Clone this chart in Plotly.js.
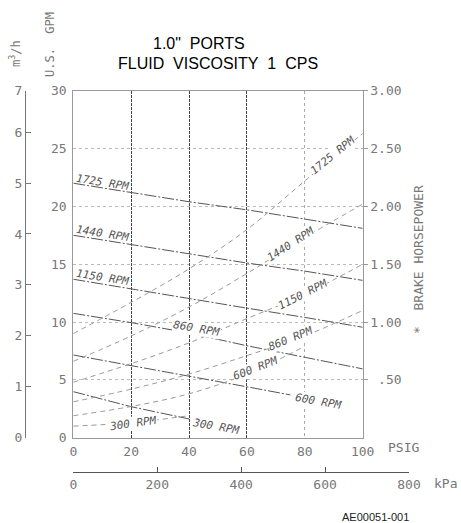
<!DOCTYPE html>
<html><head><meta charset="utf-8">
<script src="https://cdn.plot.ly/plotly-3.0.1.min.js"></script>
<style>html,body{margin:0;padding:0;background:#fff}#chart{width:461px;height:523px}</style>
</head><body><div id="chart"></div><script>
// ---- data ----
const pressurePsig = [0, 20, 40, 60, 80, 100];
const pressure600 = [0, 20, 40, 60, 75];
const pressure300 = [0, 20, 40];
// flow, U.S. GPM
const flow1725 = [22.0, 21.2, 20.4, 19.7, 18.9, 18.1];
const flow1440 = [17.5, 16.7, 15.9, 15.1, 14.4, 13.6];
const flow1150 = [13.7, 12.85, 12.05, 11.2, 10.4, 9.55];
const flow860  = [10.75, 9.95, 9.05, 7.95, 6.95, 5.95];
const flow600  = [7.15, 6.25, 5.35, 4.4, 3.7];
const flow300  = [3.98, 2.68, 1.62];
// brake horsepower
const pressureBhp600 = [0, 20, 40, 60, 80];
const pressureBhp300 = [0, 20, 40];
const bhp1725 = [0.90, 1.17, 1.46, 1.80, 2.22, 2.63];
const bhp1440 = [0.66, 0.88, 1.13, 1.42, 1.73, 2.02];
const bhp1150 = [0.48, 0.64, 0.82, 1.03, 1.24, 1.50];
const bhp860  = [0.31, 0.42, 0.55, 0.71, 0.88, 1.10];
const bhp600  = [0.19, 0.27, 0.38, 0.55, 0.79];
const bhp300  = [0.10, 0.13, 0.19];
// ticks
const psigTicks = [0, 20, 40, 60, 80, 100];
const gpmTicks = [0, 5, 10, 15, 20, 25, 30];
const bhpTicks = [0.5, 1.0, 1.5, 2.0, 2.5, 3.0];
const bhpTickText = ['\u00a0.50', '1.00', '1.50', '2.00', '2.50', '3.00'];
const kpaTicks = [0, 200, 400, 600, 800];
const m3hTicks = [0, 1, 2, 3, 4, 5, 6];
const GPM_PER_M3H = 4.403;
const KPA_PER_PSI = 6.895;
// curve labels: [text, psig, gpm-scale position, angle]
const flowLabels = [
  ['1725 RPM', 10.1, 22.1, 9], ['1440 RPM', 10.1, 17.65, 9], ['1150 RPM', 10.1, 13.85, 9],
  ['860 RPM', 42.5, 9.4, 10], ['600 RPM', 84.7, 3.17, 10], ['300 RPM', 49.2, 1.0, 10]
];
const bhpLabels = [
  ['1725 RPM', 89.6, 24.4, -39], ['1440 RPM', 75, 16.7, -33], ['1150 RPM', 79.3, 12.4, -27],
  ['860 RPM', 75.2, 8.6, -22], ['600 RPM', 62.8, 6.0, -21], ['300 RPM', 20.7, 1.2, -8]
];

const W = 461, H = 523;
const px = v => v / W, py = v => 1 - v / H;
const mono = 'DejaVu Sans Mono';
const grey = '#777';

function flowTrace(x, y) {
  return {x: x, y: y, xaxis: 'x', yaxis: 'y', mode: 'lines', hoverinfo: 'skip',
    line: {color: '#555', width: 1, dash: '12px,2px,2px,2px'}};
}
function bhpTrace(x, y) {
  return {x: x, y: y, xaxis: 'x', yaxis: 'y2', mode: 'lines', hoverinfo: 'skip',
    line: {color: '#999', width: 1, dash: '5px,4px', shape: 'spline'}};
}
function helperTrace(x, y, xa, ya) {
  return {x: x, y: y, xaxis: xa, yaxis: ya, mode: 'lines', hoverinfo: 'skip', opacity: 0,
    line: {width: 0}};
}
const data = [
  helperTrace(pressurePsig, flow1725, 'x3', 'y'),
  helperTrace(pressurePsig, flow1725, 'x4', 'y'),
  helperTrace(pressurePsig, flow1725.map(v => v / GPM_PER_M3H), 'x', 'y3'),
  helperTrace(pressurePsig.map(p => p * KPA_PER_PSI), bhp1725, 'x2', 'y4'),
  flowTrace(pressurePsig, flow1725), flowTrace(pressurePsig, flow1440),
  flowTrace(pressurePsig, flow1150), flowTrace(pressurePsig, flow860),
  flowTrace(pressure600, flow600), flowTrace(pressure300, flow300),
  bhpTrace(pressurePsig, bhp1725), bhpTrace(pressurePsig, bhp1440),
  bhpTrace(pressurePsig, bhp1150), bhpTrace(pressurePsig, bhp860),
  bhpTrace(pressureBhp600, bhp600), bhpTrace(pressureBhp300, bhp300)
];

const annotations = [];
function note(text, x, y, opts) {
  annotations.push(Object.assign({text: text, x: x, y: y, xref: 'paper', yref: 'paper',
    showarrow: false, xanchor: 'center', yanchor: 'middle'}, opts || {}));
}
note('1.0"\u00a0\u00a0PORTS', px(199), py(43), {font: {family: 'Liberation Sans', size: 16, color: '#000'}});
note('FLUID\u00a0\u00a0VISCOSITY\u00a0\u00a01\u00a0\u00a0CPS', px(218), py(63), {font: {family: 'Liberation Sans', size: 16, color: '#000'}});
note('m<sup>3</sup>/h', px(15), py(53), {textangle: -90, font: {family: mono, size: 12, color: grey}});
note('U.S.\u00a0\u00a0GPM', px(50), py(45), {textangle: -90, font: {family: mono, size: 12, color: grey}});
note('*\u00a0\u00a0BRAKE\u00a0HORSEPOWER', px(418), py(260), {textangle: -90, font: {family: mono, size: 13, color: grey}});
note('PSIG', px(403), py(447), {font: {family: mono, size: 13, color: grey}});
note('kPa', px(445), py(483), {font: {family: mono, size: 13, color: grey}});
note('AE00051-001', px(375), py(517), {font: {family: 'Liberation Sans', size: 11, color: '#222'}});
flowLabels.forEach(l => annotations.push({text: l[0], x: l[1], y: l[2], xref: 'x', yref: 'y', showarrow: false,
  textangle: l[3], bgcolor: (l[0] === '1725 RPM' || l[0] === '1440 RPM' || l[0] === '1150 RPM') ? 'rgba(0,0,0,0)' : 'white',
  borderpad: 0, font: {family: mono, size: 11, color: '#555', style: 'italic'}}));
bhpLabels.forEach(l => annotations.push({text: l[0], x: l[1], y: l[2], xref: 'x', yref: 'y', showarrow: false,
  textangle: l[3], bgcolor: 'white', borderpad: 0, font: {family: mono, size: 11, color: '#555', style: 'italic'}}));

const xDom = [px(73.3), px(362.7)];
const yDom = [py(437.7), py(90.7)];
const tickFont = {family: mono, size: 13, color: grey};
const layout = {
  width: W, height: H, margin: {l: 0, r: 0, t: 0, b: 0}, showlegend: false,
  paper_bgcolor: 'white', plot_bgcolor: 'white',
  xaxis: {domain: xDom, range: [0, 100], tickvals: psigTicks, showgrid: false, zeroline: false,
    showline: true, mirror: true, linecolor: '#999', linewidth: 1, ticks: '', tickfont: tickFont, ticklabelstandoff: 2},
  xaxis3: {overlaying: 'x', range: [0, 100], tickvals: [20, 40, 60], showticklabels: false, ticks: '',
    showgrid: true, gridcolor: '#444', gridwidth: 1, griddash: '3px,1px', zeroline: false, showline: false},
  xaxis4: {overlaying: 'x', range: [0, 100], tickvals: [80], showticklabels: false, ticks: '',
    showgrid: true, gridcolor: '#aaa', gridwidth: 1, griddash: 'dot', zeroline: false, showline: false},
  yaxis: {domain: yDom, range: [0, 30], tickvals: gpmTicks, showgrid: true, gridcolor: '#bbb', griddash: 'dot',
    zeroline: false, showline: true, mirror: true, linecolor: '#999', linewidth: 1, ticks: '', tickfont: tickFont, ticklabelstandoff: 3},
  yaxis2: {overlaying: 'y', side: 'right', range: [0, 3], tickvals: bhpTicks, ticktext: bhpTickText,
    showgrid: false, zeroline: false, showline: false, ticks: 'outside', ticklen: 4, tickcolor: '#999', tickfont: tickFont},
  yaxis3: {overlaying: 'y', anchor: 'free', position: px(25), side: 'left', range: [0, 30 / GPM_PER_M3H],
    tickvals: m3hTicks.concat([30 / GPM_PER_M3H]), ticktext: m3hTicks.map(String).concat(['7']),
    showgrid: false, zeroline: false, showline: true, linecolor: '#777', linewidth: 1,
    ticks: 'inside', ticklen: 5, tickcolor: '#777', tickfont: tickFont},
  xaxis2: {domain: [px(73.3), px(409)], anchor: 'y4', range: [0, 800], tickvals: kpaTicks, showgrid: false,
    zeroline: false, showline: true, linecolor: '#555', linewidth: 1.3, ticks: 'inside', ticklen: 5,
    tickcolor: '#555', tickfont: tickFont},
  yaxis4: {domain: [py(471.7), py(470)], anchor: 'x2', range: [0, 1], visible: false},
  annotations: annotations
};
Plotly.newPlot('chart', data, layout, {staticPlot: true});
</script></body></html>
